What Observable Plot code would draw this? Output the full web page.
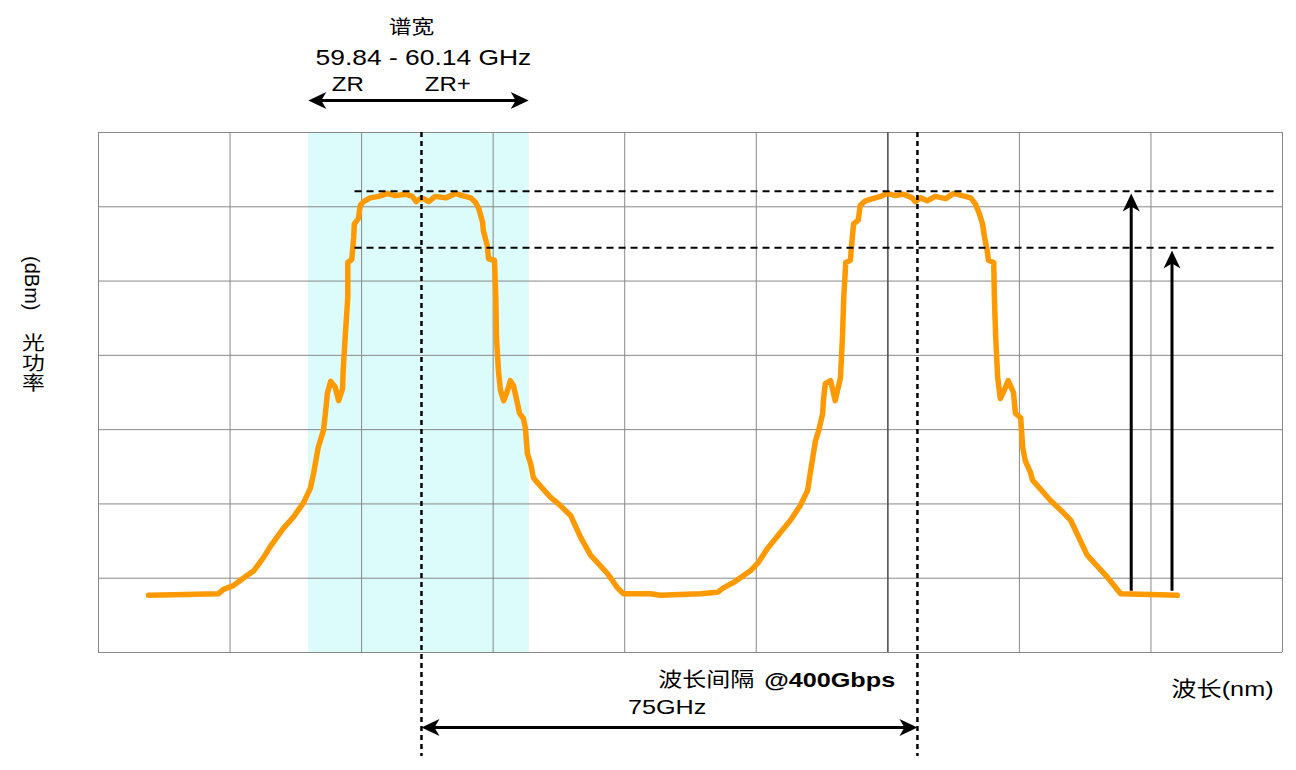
<!DOCTYPE html>
<html>
<head>
<meta charset="utf-8">
<script src="https://cdn.jsdelivr.net/npm/d3@7"></script>
<script src="https://cdn.jsdelivr.net/npm/@observablehq/plot@0.6"></script>
<style>
html, body { margin: 0; padding: 0; background: #fff; overflow: hidden; }
#chart svg { display: block; }
</style>
</head>
<body>
<div id="chart"></div>
<script>
// ---- data (frequency offset in GHz, optical power in dBm) ----
const freqGHz = [
  7.6, 13.2, 18.2, 19.0, 20.5, 22.0, 23.6, 25.1, 26.3, 28.1, 29.6, 31.2, 32.2, 32.7, 33.4, 34.2, 34.5, 34.8, 35.3, 36.0,
  36.5, 37.1, 37.2, 37.5, 37.9, 37.9, 38.5, 38.8, 38.9, 39.5, 39.8, 40.3, 41.3, 42.6, 43.9, 45.1, 46.7, 47.7, 48.3, 48.9,
  49.4, 50.2, 51.2, 52.8, 54.3, 55.3, 56.6, 57.3, 57.8, 58.4, 58.5, 59.1, 59.3, 60.2, 60.4, 60.5, 60.8, 61.1, 61.6, 62.2,
  62.6, 63.1, 63.7, 64.0, 64.6, 64.9, 65.2, 65.7, 66.1, 66.4, 68.7, 70.2, 71.8, 73.3, 74.8, 77.4, 78.9, 79.8, 83.9, 85.4,
  91.5, 94.1, 95.0, 96.5, 99.1, 100.3, 101.7, 103.7, 105.2, 106.7, 107.8, 108.2, 109.0, 109.5, 110.1, 110.2, 110.5, 111.3, 112.0, 112.8,
  113.1, 113.3, 113.6, 114.3, 114.6, 114.8, 115.5, 115.8, 116.6, 117.7, 118.9, 119.9, 121.2, 122.4, 123.7, 124.2, 125.0, 126.0, 127.2, 128.8,
  130.0, 131.3, 132.6, 133.3, 133.9, 134.4, 134.7, 135.1, 135.3, 136.1, 136.2, 136.4, 136.7, 137.1, 137.7, 138.3, 139.1, 139.4, 140.2, 140.5,
  140.9, 141.7, 142.0, 144.7, 146.7, 147.8, 150.3, 153.4, 155.4, 159.9, 164.0
];
const powerDbm = [
  -62.3, -62.2, -62.1, -61.5, -61.0, -60.0, -59.0, -57.2, -55.5, -53.3, -51.8, -49.8, -47.9, -45.9, -42.4, -40.1, -37.8, -35.1, -33.5, -34.3,
  -36.1, -34.5, -32.0, -27.6, -22.2, -17.5, -17.1, -14.1, -12.3, -11.6, -9.8, -9.3, -8.8, -8.6, -8.2, -8.5, -8.3, -8.6, -9.3, -8.9,
  -8.9, -9.3, -8.6, -8.8, -8.2, -8.5, -8.8, -9.4, -10.2, -12.1, -13.2, -15.2, -17.0, -17.2, -22.2, -27.6, -32.0, -34.7, -36.1, -34.7,
  -33.4, -34.1, -36.5, -37.8, -38.5, -39.8, -43.2, -44.6, -46.4, -46.8, -49.1, -50.2, -51.6, -54.5, -56.9, -59.4, -61.3, -62.1, -62.1, -62.3,
  -62.1, -61.9, -61.3, -60.6, -59.0, -57.9, -56.0, -53.8, -52.2, -50.2, -48.2, -45.9, -41.5, -40.1, -37.8, -36.1, -33.8, -33.4, -36.1, -33.0,
  -27.6, -22.2, -17.5, -17.2, -14.1, -12.3, -11.8, -9.8, -9.2, -8.9, -8.6, -8.2, -8.5, -8.3, -8.8, -9.3, -8.8, -9.2, -8.6, -8.9,
  -8.2, -8.5, -8.8, -9.6, -10.9, -12.3, -14.1, -15.9, -17.2, -17.5, -22.2, -27.6, -33.0, -35.8, -34.7, -33.4, -35.0, -37.8, -38.4, -42.4,
  -44.2, -45.8, -46.8, -49.5, -51.2, -52.2, -56.9, -59.9, -62.1, -62.2, -62.3
];
const xGrid = [0, 20, 40, 60, 80, 100, 120, 140, 160, 180];
const yGrid = [0, -10, -20, -30, -40, -50, -60, -70];
const channelCenters = [49.1, 124.5];      // GHz
const zrBand = [31.9, 65.5];               // GHz
const levelLines = [-7.9, -15.5];          // dBm
const riseArrowX = [157.0, 163.2];         // GHz
const riseArrowTop = [-8.2, -15.9];        // dBm
const noiseFloor = -61.7;                  // dBm

const labelTitle = "谱宽";
const labelRange = "59.84 - 60.14 GHz";
const labelZR = ["ZR", "ZR+"];
const labelSpacing = "波长间隔";
const labelRate = "@400Gbps";
const labelGap = "75GHz";
const labelX = "波长(nm)";
const labelYUnit = "(dBm)";
const labelYChars = ["光", "功", "率"];

// ---- derived tables ----
const spectrum = freqGHz.map((f, i) => ({f, p: powerDbm[i]}));

// classic notched arrowhead, tip at origin, pointing up
const arrowHead = {
  draw(ctx) {
    ctx.moveTo(0, 0);
    ctx.lineTo(8.5, 18);
    ctx.lineTo(0, 13);
    ctx.lineTo(-8.5, 18);
    ctx.closePath();
  }
};

const shafts = [
  {x1: zrBand[0] + 1.4, y1: 4.3, x2: zrBand[1] - 1.4, y2: 4.3},
  {x1: channelCenters[0] + 1.5, y1: -80.1, x2: channelCenters[1] - 1.5, y2: -80.1},
  {x1: riseArrowX[0], y1: noiseFloor, x2: riseArrowX[0], y2: riseArrowTop[0] - 1.3},
  {x1: riseArrowX[1], y1: noiseFloor, x2: riseArrowX[1], y2: riseArrowTop[1] - 1.3}
];
const heads = [
  {x: zrBand[0], y: 4.3, r: -90},
  {x: zrBand[1] - 0.1, y: 4.3, r: 90},
  {x: channelCenters[0], y: -80.1, r: -90},
  {x: channelCenters[1], y: -80.1, r: 90},
  {x: riseArrowX[0], y: riseArrowTop[0], r: 0},
  {x: riseArrowX[1], y: riseArrowTop[1], r: 0}
];

const centeredTexts = [
  {x: 47.6, y: 14.1, t: labelTitle, s: 19},
  {x: 49.4, y: 10.1, t: labelRange, s: 22},
  {x: 37.9, y: 6.4, t: labelZR[0], s: 20},
  {x: 53.1, y: 6.4, t: labelZR[1], s: 20},
  {x: -9.9, y: -28.5, t: labelYChars[0], s: 19},
  {x: -9.9, y: -31.2, t: labelYChars[1], s: 19},
  {x: -9.9, y: -33.9, t: labelYChars[2], s: 19}
];
const startTexts = [
  {x: 85.1, y: -73.8, t: labelSpacing, s: 20},
  {x: 80.5, y: -77.4, t: labelGap, s: 21},
  {x: 163.1, y: -75.0, t: labelX, s: 21}
];

const chart = Plot.plot({
  width: 1296,
  height: 770,
  marginLeft: 98,
  marginRight: 14,
  marginTop: 132,
  marginBottom: 118,
  style: {fontFamily: "'Liberation Sans', 'Noto Sans CJK SC', sans-serif", background: "#fff", color: "#000"},
  x: {domain: [0, 180], axis: null},
  y: {domain: [-70, 0], axis: null},
  marks: [
    Plot.rect([{a: zrBand[0], b: zrBand[1], lo: -70, hi: 0}], {x1: "a", x2: "b", y1: "lo", y2: "hi", fill: "#dcfbfb"}),
    Plot.ruleX(xGrid, {stroke: "#888", strokeWidth: 1}),
    Plot.ruleY(yGrid, {stroke: "#888", strokeWidth: 1}),
    Plot.ruleX([xGrid[6]], {stroke: "#555", strokeWidth: 1.5}),
    Plot.link(shafts, {x1: "x1", y1: "y1", x2: "x2", y2: "y2", stroke: "#000", strokeWidth: 3}),
    Plot.dot(heads, {x: "x", y: "y", rotate: "r", symbol: arrowHead, fill: "#000", stroke: null}),
    Plot.line(spectrum, {x: "f", y: "p", stroke: "#FF9900", strokeWidth: 5.5, strokeLinejoin: "round", strokeLinecap: "round"}),
    Plot.ruleY(levelLines, {x1: 39.0, x2: 179.4, stroke: "#000", strokeWidth: 2, strokeDasharray: "7,5"}),
    Plot.ruleX(channelCenters, {y1: 0, y2: -84, stroke: "#000", strokeWidth: 2.5, strokeDasharray: "5,4"}),
    Plot.text(centeredTexts, {x: "x", y: "y", text: "t", fontSize: "s", fill: "#000"}),
    Plot.text(startTexts, {x: "x", y: "y", text: "t", fontSize: "s", textAnchor: "start", fill: "#000"}),
    Plot.text([labelRate], {x: 101.2, y: -73.8, text: d => d, fontSize: 21, fontWeight: "bold", textAnchor: "start", fill: "#000"}),
    Plot.text([labelYUnit], {x: -10.2, y: -20.3, text: d => d, rotate: 90, fontSize: 20, fill: "#000"})
  ]
});

document.getElementById("chart").append(chart);

// the reference's lettering is horizontally widened; reproduce that
chart.querySelectorAll("text").forEach(t => {
  const tr = t.getAttribute("transform") || "";
  if (tr.includes("rotate")) return;
  const w = t.getComputedTextLength();
  if (w > 0) {
    t.setAttribute("textLength", (w * 1.2).toFixed(1));
    t.setAttribute("lengthAdjust", "spacingAndGlyphs");
  }
});
</script>
</body>
</html>
